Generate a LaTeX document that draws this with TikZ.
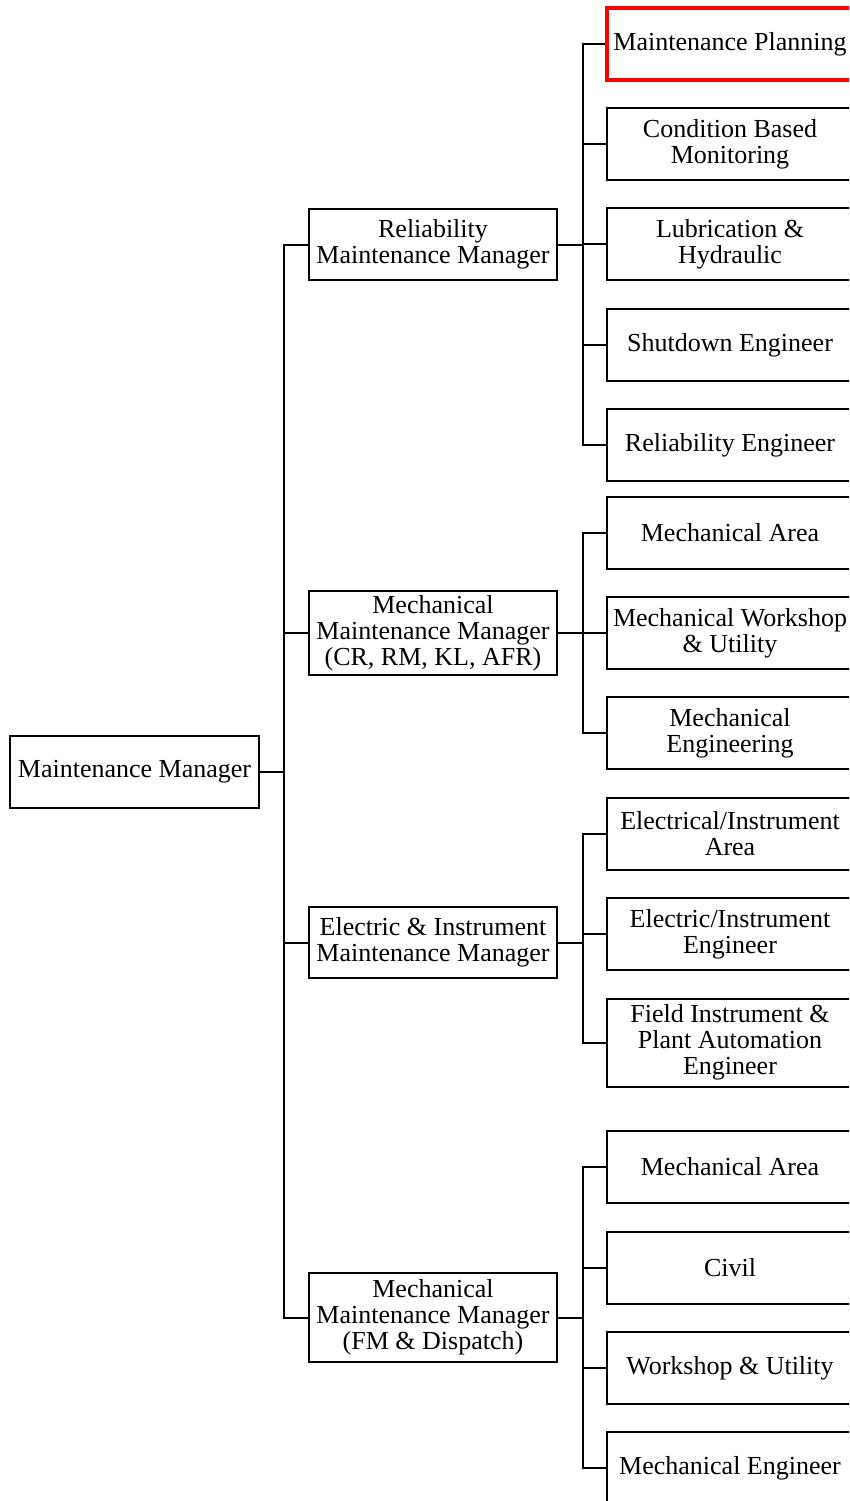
\documentclass[tikz,border=0pt]{standalone}
\usepackage{fontspec}
\setmainfont{Liberation Serif}
\begin{document}
\begin{tikzpicture}[x=1pt,y=-1pt,
  box/.style={draw, line width=2pt, align=center, inner sep=0pt, minimum width=246pt, minimum height=72pt, font=\fontsize{26}{26}\selectfont},
  mgr/.style={box, minimum width=248pt},
  hilite/.style={box, draw=red, line width=4.5pt},
  conn/.style={line width=2pt}]
\clip (0,0) rectangle (849,1501);
\fill[white] (0,0) rectangle (849,1501);

% root
\node[box, minimum width=249pt] (root) at (134.5,772) {Maintenance Manager};

% managers
\node[mgr, minimum height=71pt] (rm) at (433,244.5) {Reliability\\Maintenance Manager};
\node[mgr, minimum height=84pt] (mm1) at (433,633) {Mechanical\\Maintenance Manager\\(CR, RM, KL, AFR)};
\node[mgr, minimum height=71pt] (em) at (433,942.5) {Electric \& Instrument\\Maintenance Manager};
\node[mgr, minimum height=89pt] (mm2) at (433,1317.5) {Mechanical\\Maintenance Manager\\(FM \& Dispatch)};

% group 1
\node[box] (p2) at (730,144) {Condition Based\\Monitoring};
\node[box] (p3) at (730,244) {Lubrication \&\\Hydraulic};
\node[box] (p4) at (730,345) {Shutdown Engineer};
\node[box] (p5) at (730,445) {Reliability Engineer};

% group 2
\node[box] (m1) at (730,532.5) {Mechanical Area};
\node[box] (m2) at (730,633) {Mechanical Workshop\\\& Utility};
\node[box] (m3) at (730,733) {Mechanical\\Engineering};

% group 3
\node[box] (e1) at (730,833.5) {Electrical/Instrument\\Area};
\node[box] (e2) at (730,934) {Electric/Instrument\\Engineer};
\node[box, minimum height=88pt] (e3) at (730,1042.5) {Field Instrument \&\\Plant Automation\\Engineer};

% group 4
\node[box] (f1) at (730,1167) {Mechanical Area};
\node[box] (f2) at (730,1267.5) {Civil};
\node[box] (f3) at (730,1368) {Workshop \& Utility};
\node[box] (f4) at (730,1468) {Mechanical Engineer};

% trunk junctions
\coordinate (t0) at (284,772);
\coordinate (t1) at (583,244.5);
\coordinate (t2) at (583,633);
\coordinate (t3) at (583,942.5);
\coordinate (t4) at (583,1317.5);

% highlighted box (drawn after the trunk coordinate definitions)
\node[hilite] (p1) at (730,44) {Maintenance Planning};

% connectors root
\draw[conn] (root.east) -- (t0);
\foreach \n in {rm,mm1,em,mm2} \draw[conn] (\n.west) -| (t0);

% group connectors
\draw[conn] (rm.east) -- (t1);
\foreach \n in {p1,p2,p3,p4,p5} \draw[conn] (\n.west) -| (t1);
\draw[conn] (mm1.east) -- (t2);
\foreach \n in {m1,m2,m3} \draw[conn] (\n.west) -| (t2);
\draw[conn] (em.east) -- (t3);
\foreach \n in {e1,e2,e3} \draw[conn] (\n.west) -| (t3);
\draw[conn] (mm2.east) -- (t4);
\foreach \n in {f1,f2,f3,f4} \draw[conn] (\n.west) -| (t4);
\end{tikzpicture}
\end{document}
